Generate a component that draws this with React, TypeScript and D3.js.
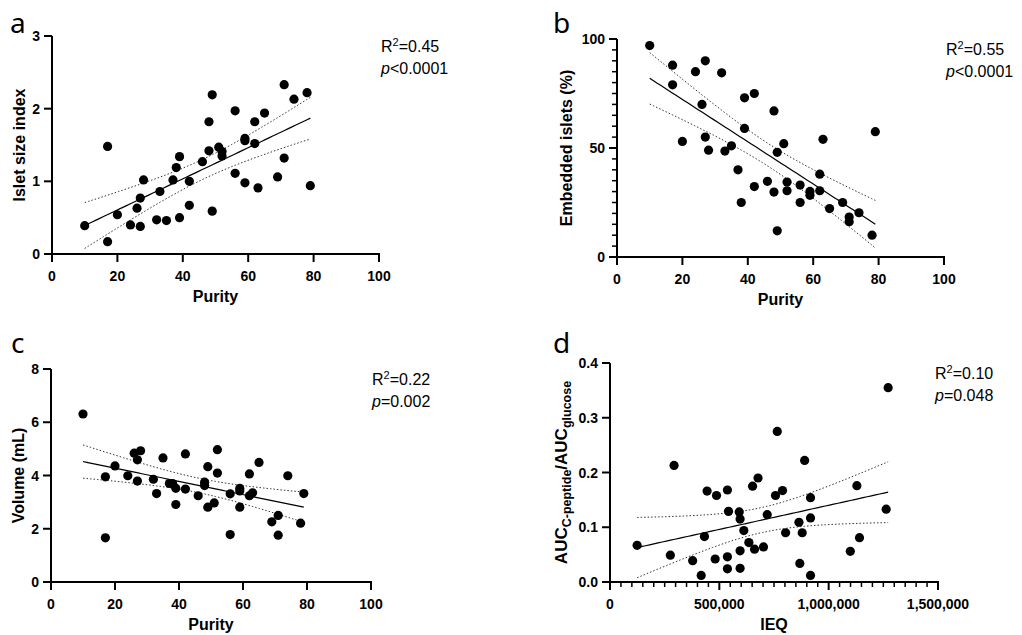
import * as d3 from "d3";

// ---- data ----
const purityA = [10, 17, 17, 20, 24, 26, 27, 27, 28, 32, 33, 35, 37, 38, 39, 39, 42, 42, 46, 48, 48, 49, 49, 51, 52, 52, 56, 56, 59, 59, 59, 62, 62, 63, 65, 69, 71, 71, 74, 78, 79];
const isletSize = [0.39, 1.48, 0.17, 0.54, 0.4, 0.63, 0.77, 0.38, 1.02, 0.47, 0.86, 0.46, 1.02, 1.19, 1.34, 0.5, 1.0, 0.67, 1.27, 1.82, 1.42, 2.19, 0.59, 1.47, 1.41, 1.35, 1.97, 1.11, 1.59, 1.56, 0.98, 1.82, 1.52, 0.91, 1.94, 1.06, 2.33, 1.32, 2.13, 2.22, 0.94];

const purityB = [10, 17, 17, 20, 24, 26, 27, 27, 28, 32, 33, 35, 37, 38, 39, 39, 42, 42, 46, 48, 48, 49, 49, 51, 52, 52, 56, 56, 59, 59, 62, 62, 63, 65, 69, 71, 71, 74, 78, 79];
const embedded = [97, 88, 79, 53, 85, 70, 90, 55, 49, 84.5, 48.6, 51, 40, 25, 73, 59, 75, 32.3, 34.7, 67, 29.8, 48, 12, 52, 34.4, 30.4, 33, 25, 30.1, 28.3, 38, 30.4, 54, 22.2, 25, 18.3, 16.2, 20.3, 10, 57.5];

const purityC = [10, 17, 17, 20, 24, 26, 27, 27, 28, 32, 33, 35, 37, 38, 39, 39, 42, 42, 46, 48, 48, 49, 49, 51, 52, 52, 56, 56, 59, 59, 59, 62, 62, 63, 65, 69, 71, 71, 74, 78, 79];
const volume = [6.31, 3.95, 1.66, 4.36, 3.99, 4.84, 4.59, 3.79, 4.93, 3.86, 3.32, 4.66, 3.7, 3.7, 3.52, 2.91, 4.81, 3.49, 3.24, 3.75, 3.62, 4.33, 2.81, 2.97, 4.97, 4.09, 3.31, 1.78, 3.52, 3.42, 2.81, 4.06, 3.24, 3.35, 4.49, 2.26, 2.5, 1.76, 3.99, 2.21, 3.32];

const ieq = [124000, 276000, 293000, 378000, 417000, 432000, 444000, 481000, 487000, 537000, 537000, 537000, 542000, 591000, 595000, 595000, 595000, 612000, 635000, 652000, 661000, 677000, 702000, 719000, 757000, 765000, 789000, 803000, 864000, 868000, 879000, 890000, 917000, 917000, 917000, 1099000, 1129000, 1141000, 1263000, 1272000];
const aucRatio = [0.067, 0.049, 0.213, 0.039, 0.012, 0.083, 0.166, 0.042, 0.158, 0.046, 0.024, 0.168, 0.129, 0.128, 0.115, 0.057, 0.025, 0.094, 0.072, 0.175, 0.06, 0.19, 0.064, 0.123, 0.158, 0.275, 0.167, 0.09, 0.109, 0.034, 0.09, 0.222, 0.154, 0.117, 0.012, 0.056, 0.176, 0.081, 0.133, 0.355];

const T95 = 2.024; // t(0.975, ~39 df)

type Band = { x: number; y: number; lo: number; hi: number };

// least squares fit + 95% confidence band of the mean
function regression(xs: number[], ys: number[]): Band[] {
  const n = xs.length;
  const mx = d3.mean(xs)!;
  const my = d3.mean(ys)!;
  let sxx = 0, sxy = 0;
  xs.forEach((x, i) => {
    sxx += (x - mx) ** 2;
    sxy += (x - mx) * (ys[i] - my);
  });
  const b = sxy / sxx;
  const a = my - b * mx;
  const sse = d3.sum(xs, (x, i) => (ys[i] - a - b * x) ** 2);
  const s = Math.sqrt(sse / (n - 2));
  const [x0, x1] = d3.extent(xs) as [number, number];
  return d3.range(0, 61).map((k) => {
    const x = x0 + ((x1 - x0) * k) / 60;
    const y = a + b * x;
    const h = T95 * s * Math.sqrt(1 / n + (x - mx) ** 2 / sxx);
    return { x, y, lo: y - h, hi: y + h };
  });
}

type PanelProps = {
  letter: string;
  letterPos: [number, number];
  xs: number[];
  ys: number[];
  box: { x0: number; x1: number; top: number; bottom: number };
  xDomain: [number, number];
  yDomain: [number, number];
  xTicks: number[];
  yTicks: number[];
  xMinor?: number[];
  yMinor?: number[];
  xFormat?: (v: number) => string;
  yFormat?: (v: number) => string;
  xLabel: string;
  yLabel: React.ReactNode;
  yLabelX: number;
  yLabelSize?: number;
  r2: string;
  p: string;
  annX: number;
};

const tickFont = "'Liberation Sans', Arial, sans-serif";

function Panel(props: PanelProps) {
  const { box } = props;
  const x = d3.scaleLinear().domain(props.xDomain).range([box.x0, box.x1]);
  const y = d3.scaleLinear().domain(props.yDomain).range([box.bottom, box.top]);
  const fit = regression(props.xs, props.ys);
  const line = (acc: (d: Band) => number) =>
    d3.line<Band>().x((d) => x(d.x)).y((d) => y(acc(d)))(fit)!;
  const xf = props.xFormat ?? ((v: number) => String(v));
  const yf = props.yFormat ?? ((v: number) => String(v));
  const midX = (box.x0 + box.x1) / 2;
  const midY = (box.top + box.bottom) / 2;

  return (
    <g>
      <text x={props.letterPos[0]} y={props.letterPos[1]} fontFamily="'Noto Sans', sans-serif" fontSize={28} fill="#000">
        {props.letter}
      </text>

      {/* axes */}
      <line x1={box.x0} x2={box.x0} y1={box.top} y2={box.bottom + 1} stroke="#000" strokeWidth={2} />
      <line x1={box.x0 - 1} x2={box.x1 + 1} y1={box.bottom} y2={box.bottom} stroke="#000" strokeWidth={2} />
      {props.xTicks.map((t) => (
        <g key={"xt" + t}>
          <line x1={x(t)} x2={x(t)} y1={box.bottom} y2={box.bottom + 8} stroke="#000" strokeWidth={2} />
          <text x={x(t)} y={box.bottom + 27} textAnchor="middle" fontFamily={tickFont} fontWeight="bold" fontSize={14}>
            {xf(t)}
          </text>
        </g>
      ))}
      {(props.xMinor ?? []).map((t) => (
        <line key={"xm" + t} x1={x(t)} x2={x(t)} y1={box.bottom} y2={box.bottom + 5} stroke="#000" strokeWidth={1.5} />
      ))}
      {props.yTicks.map((t) => (
        <g key={"yt" + t}>
          <line x1={box.x0 - 8} x2={box.x0} y1={y(t)} y2={y(t)} stroke="#000" strokeWidth={2} />
          <text x={box.x0 - 12} y={y(t)} dy="0.36em" textAnchor="end" fontFamily={tickFont} fontWeight="bold" fontSize={14}>
            {yf(t)}
          </text>
        </g>
      ))}
      {(props.yMinor ?? []).map((t) => (
        <line key={"ym" + t} x1={box.x0 - 5} x2={box.x0} y1={y(t)} y2={y(t)} stroke="#000" strokeWidth={1.5} />
      ))}

      <text x={midX} y={box.bottom + 48} textAnchor="middle" fontFamily={tickFont} fontWeight="bold" fontSize={16}>
        {props.xLabel}
      </text>
      <text
        transform={`translate(${props.yLabelX},${midY}) rotate(-90)`}
        textAnchor="middle"
        dy="0.35em"
        fontFamily={tickFont}
        fontWeight="bold"
        fontSize={props.yLabelSize ?? 16}
      >
        {props.yLabel}
      </text>

      {/* fit and CI */}
      <path d={line((d) => d.hi)} fill="none" stroke="#333" strokeWidth={1} strokeDasharray="1.5,2" />
      <path d={line((d) => d.lo)} fill="none" stroke="#333" strokeWidth={1} strokeDasharray="1.5,2" />
      <path d={line((d) => d.y)} fill="none" stroke="#000" strokeWidth={1.2} />

      {props.xs.map((v, i) => (
        <circle key={i} cx={x(v)} cy={y(props.ys[i])} r={4.6} fill="#000" />
      ))}

      <text x={props.annX} y={box.top + 16} fontFamily={tickFont} fontSize={16}>
        R<tspan dy={-6} fontSize={11}>2</tspan>
        <tspan dy={6}>=</tspan>
        {props.r2}
      </text>
      <text x={props.annX} y={box.top + 38} fontFamily={tickFont} fontSize={16}>
        <tspan fontStyle="italic">p</tspan>
        {props.p}
      </text>
    </g>
  );
}

const fmtComma = d3.format(",");
const fmt1 = d3.format(".1f");

export default function App() {
  return (
    <svg width={1022} height={635} style={{ position: "absolute", left: 0, top: 0, background: "#fff" }}>
      <Panel
        letter="a"
        letterPos={[10, 33]}
        xs={purityA}
        ys={isletSize}
        box={{ x0: 52, x1: 379, top: 36, bottom: 254 }}
        xDomain={[0, 100]}
        yDomain={[0, 3]}
        xTicks={[0, 20, 40, 60, 80, 100]}
        yTicks={[0, 1, 2, 3]}
        xLabel="Purity"
        yLabel="Islet size index"
        yLabelX={19}
        r2="0.45"
        p="<0.0001"
        annX={381}
      />
      <Panel
        letter="b"
        letterPos={[553, 33]}
        xs={purityB}
        ys={embedded}
        box={{ x0: 617, x1: 944, top: 39, bottom: 257 }}
        xDomain={[0, 100]}
        yDomain={[0, 100]}
        xTicks={[0, 20, 40, 60, 80, 100]}
        yTicks={[0, 50, 100]}
        yMinor={d3.range(5, 100, 5).filter((v) => v !== 50)}
        xLabel="Purity"
        yLabel="Embedded islets (%)"
        yLabelX={566}
        r2="0.55"
        p="<0.0001"
        annX={946}
      />
      <Panel
        letter="c"
        letterPos={[11, 353]}
        xs={purityC}
        ys={volume}
        box={{ x0: 51, x1: 371, top: 369, bottom: 582 }}
        xDomain={[0, 100]}
        yDomain={[0, 8]}
        xTicks={[0, 20, 40, 60, 80, 100]}
        yTicks={[0, 2, 4, 6, 8]}
        xLabel="Purity"
        yLabel="Volume (mL)"
        yLabelX={18}
        r2="0.22"
        p="=0.002"
        annX={372}
      />
      <Panel
        letter="d"
        letterPos={[553, 353]}
        xs={ieq}
        ys={aucRatio}
        box={{ x0: 610, x1: 938, top: 363, bottom: 582 }}
        xDomain={[0, 1500000]}
        yDomain={[0, 0.4]}
        xTicks={[0, 500000, 1000000, 1500000]}
        xMinor={d3.range(50000, 1500000, 50000).filter((v) => v % 500000 !== 0)}
        yTicks={[0, 0.1, 0.2, 0.3, 0.4]}
        xFormat={fmtComma}
        yFormat={fmt1}
        xLabel="IEQ"
        yLabel={
          <>
            AUC
            <tspan fontSize={12.5} dy={4}>C-peptide</tspan>
            <tspan dy={-4}>/AUC</tspan>
            <tspan fontSize={12.5} dy={4}>glucose</tspan>
          </>
        }
        yLabelX={561}
        yLabelSize={17}
        r2="0.10"
        p="=0.048"
        annX={935}
      />
    </svg>
  );
}
